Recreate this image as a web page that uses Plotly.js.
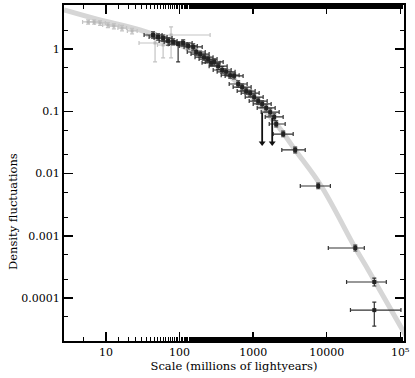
<!DOCTYPE html>
<html>
<head>
<meta charset="utf-8">
<script src="https://cdn.plot.ly/plotly-3.0.1.min.js"></script>
<style>
  html, body { margin: 0; padding: 0; background: #fff; }
</style>
</head>
<body>
<div id="densityPlot" style="width:415px;height:378px;"></div>
<script>
// model curve (grey band)
const curveX = [2.69, 8.28, 29, 101.6, 356, 910, 2123, 3724, 8410, 24430, 36700, 100000, 120000];
const curveY = [4.23, 2.92, 2.02, 1.16, 0.495, 0.182, 0.060, 0.0239, 0.0063, 0.000636, 0.000282, 3.55e-5, 2.45e-5];

// grey (older) measurements
const greyX = [5.7, 6.9, 8.3, 10.6, 12.8, 16.5, 22.6, 46.4, 59.7, 76.6];
const greyY = [2.72, 2.72, 2.62, 2.43, 2.34, 2.17, 1.95, 1.25, 1.16, 1.68];
const greyXlo = [4.8, 5.9, 7.0, 9.0, 11.0, 14.5, 19.5, 28.1, 50, 36.1];
const greyXhi = [6.8, 8.1, 9.8, 12.5, 15.0, 19.0, 26.5, 74.3, 70, 260];
const greyYlo = [2.5, 2.5, 2.4, 2.2, 2.1, 1.95, 1.75, 0.62, 0.72, 0.72];
const greyYhi = [2.95, 2.95, 2.85, 2.65, 2.55, 2.4, 2.15, 1.81, 1.56, 2.26];

// black measurements
const dataX = [43.6, 51, 59.7, 69.8, 81.7, 95.5, 112, 131, 153, 168, 190, 215, 244, 268, 295, 334, 379, 429, 487, 551,
  625, 708, 803, 910, 1032, 1170, 1325, 1503, 1703, 1930, 2057, 2559, 3724, 7656, 24430, 44300, 44300];
const dataY = [1.68, 1.56, 1.50, 1.35, 1.30, 1.20, 1.25, 1.12, 1.08, 0.895, 0.83, 0.74, 0.69, 0.60, 0.62, 0.53, 0.46, 0.43, 0.38, 0.37,
  0.274, 0.245, 0.211, 0.196, 0.169, 0.146, 0.131, 0.113, 0.097, 0.081, 0.0624, 0.0431, 0.0239, 0.0063, 0.000636, 0.000181, 6.4e-5];
const dataXlo = [32.9, 38.5, 45, 52.7, 61.7, 72, 84.5, 99, 115, 127, 143, 162, 184, 202, 223, 252, 286, 324, 368, 416,
  472, 534, 606, 687, 779, 883, 1000, 1134, 1285, 1457, 1652, 1871, 2450, 4370, 10500, 18600, 21000];
const dataXhi = [57.8, 67.6, 79, 92.5, 108, 126.5, 148, 174, 203, 223, 252, 285, 323, 355, 391, 443, 502, 568, 645, 730,
  828, 938, 1064, 1206, 1367, 1550, 1756, 1991, 2256, 2557, 2723, 3500, 5100, 11200, 32400, 64500, 102000];
const dataYlo = [1.50, 1.39, 1.34, 1.15, 1.16, 0.62, 1.12, 1.00, 0.96, 0.80, 0.74, 0.66, 0.62, 0.54, 0.55, 0.47, 0.41, 0.38, 0.34, 0.33,
  0.245, 0.219, 0.189, 0.175, 0.151, 0.130, 0.117, 0.101, 0.087, 0.072, 0.056, 0.039, 0.0215, 0.0057, 0.00057, 1.56e-4, 3.55e-5];
const dataYhi = [1.88, 1.75, 1.68, 1.51, 1.46, 1.29, 1.40, 1.25, 1.21, 1.00, 0.93, 0.83, 0.77, 0.67, 0.69, 0.59, 0.52, 0.48, 0.43, 0.41,
  0.307, 0.274, 0.236, 0.219, 0.189, 0.163, 0.147, 0.127, 0.109, 0.091, 0.070, 0.048, 0.0266, 0.0070, 0.00071, 2.09e-4, 8.6e-5];

// upper limits (arrows)
const limitX = [1325, 1815];
const limitTop = [0.094, 0.078];
const limitBottom = [0.031, 0.031];

const TICKS_X = [10, 100, 1000, 10000, 100000];
const TICKS_X_TEXT = ['10', '100', '1000', '10000', '10\u2075'];
const TICKS_Y = [1, 0.1, 0.01, 0.001, 0.0001];
const TICKS_Y_TEXT = ['1', '0.1', '0.01', '0.001', '0.0001'];

const minus = (v, lo) => v.map((d, i) => d - lo[i]);
const plus = (v, hi) => v.map((d, i) => hi[i] - d);

const limitLineX = [];
const limitLineY = [];
limitX.forEach((x, i) => {
    limitLineX.push(x, x, null);
    limitLineY.push(limitTop[i], limitBottom[i], null);
});

const FONT = 'DejaVu Serif, serif';

const traces = [
    {
        x: curveX, y: curveY, mode: 'lines', type: 'scatter',
        line: { color: '#d6d6d6', width: 5, shape: 'spline', smoothing: 1 },
        hoverinfo: 'skip'
    },
    {
        x: greyX, y: greyY, mode: 'markers', type: 'scatter',
        marker: { color: '#b8b8b8', size: 3, symbol: 'square' },
        error_x: { type: 'data', symmetric: false, array: plus(greyX, greyXhi), arrayminus: minus(greyX, greyXlo), color: '#c4c4c4', thickness: 1.2, width: 2 },
        error_y: { type: 'data', symmetric: false, array: plus(greyY, greyYhi), arrayminus: minus(greyY, greyYlo), color: '#c4c4c4', thickness: 1.2, width: 2 }
    },
    {
        x: dataX, y: dataY, mode: 'markers', type: 'scatter',
        marker: { color: '#222', size: 4, symbol: 'square' },
        error_x: { type: 'data', symmetric: false, array: plus(dataX, dataXhi), arrayminus: minus(dataX, dataXlo), color: '#333', thickness: 1.2, width: 2 },
        error_y: { type: 'data', symmetric: false, array: plus(dataY, dataYhi), arrayminus: minus(dataY, dataYlo), color: '#333', thickness: 1.2, width: 2 }
    },
    {
        x: limitLineX, y: limitLineY, mode: 'lines', type: 'scatter',
        line: { color: '#111', width: 1.8 }
    },
    {
        x: limitX, y: limitBottom, mode: 'markers', type: 'scatter',
        marker: { color: '#111', size: 6, symbol: 'triangle-down' }
    }
];

const axisCommon = {
    type: 'log',
    ticks: 'inside', ticklen: 9, tickwidth: 1.5, tickcolor: '#000',
    showline: true, linewidth: 2, linecolor: '#000', mirror: 'allticks',
    showgrid: false, zeroline: false,
    minor: { ticks: 'inside', ticklen: 4, tickwidth: 1, tickcolor: '#000', showgrid: false },
    tickfont: { family: FONT, size: 11, color: '#000' }
};

const layout = {
    width: 415, height: 378,
    margin: { l: 64, r: 11, t: 5, b: 37 },
    paper_bgcolor: '#fff', plot_bgcolor: '#fff',
    showlegend: false,
    xaxis: {
        ...axisCommon,
        range: [0.429, 5.05],
        tickvals: TICKS_X, ticktext: TICKS_X_TEXT,
        title: { text: 'Scale (millions of lightyears)', font: { family: FONT, size: 11.5, color: '#000' }, standoff: 3 }
    },
    yaxis: {
        ...axisCommon,
        range: [-4.69, 0.707],
        tickvals: TICKS_Y, ticktext: TICKS_Y_TEXT
    },
    annotations: [{
        text: 'Density fluctuations', textangle: -90, showarrow: false,
        xref: 'paper', yref: 'paper', x: -0.15, y: 0.384,
        xanchor: 'center', yanchor: 'middle',
        font: { family: FONT, size: 11.5, color: '#000' }
    }]
};

Plotly.newPlot('densityPlot', traces, layout, { displayModeBar: false, staticPlot: true });
</script>
</body>
</html>
